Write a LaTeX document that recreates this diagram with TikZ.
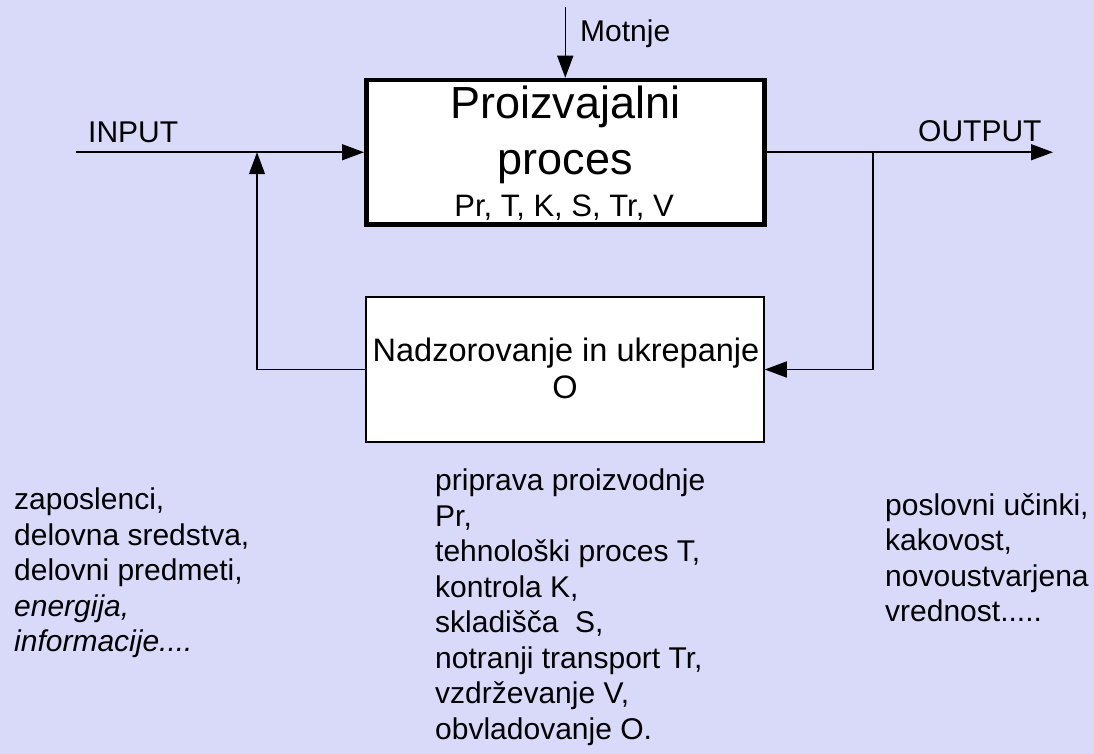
\documentclass[tikz,border=0pt]{standalone}
\usepackage{fontspec}
\setmainfont{Liberation Sans}
\usetikzlibrary{arrows.meta,positioning}
\definecolor{bgblue}{RGB}{217,217,250}
\tikzset{
  flow/.style={line width=1.5pt,-{Triangle[length=22pt,width=16pt]}},
  lbl/.style={font=\fontsize{30}{35.5}\selectfont,inner sep=0pt},
  listtxt/.style={lbl,align=left,anchor=north west},
}

\begin{document}
\begin{tikzpicture}[x=1pt,y=-1pt]
\fill[bgblue] (0,0) rectangle (1094,754);
\useasboundingbox (0,0) rectangle (1094,754);

% the two boxes
\node[draw,line width=4.5pt,fill=white,minimum width=398pt,minimum height=144.5pt,inner sep=0pt] (proc) at (565.25,152.25) {};
\node[draw,line width=1.5pt,fill=white,minimum width=398pt,minimum height=145pt,inner sep=0pt] (ctrl) at (565,369.5) {};

\node[lbl,font=\fontsize{45}{50}\selectfont,anchor=base] (title1) at (565.5,119) {Proizvajalni};
\node[lbl,font=\fontsize{45}{50}\selectfont,anchor=base] (title2) at (565.5,175) {proces};
\node[lbl,font=\fontsize{31}{36}\selectfont,anchor=base] (parts) at (564,216) {Pr, T, K, S, Tr, V};
\node[lbl,font=\fontsize{32.5}{38}\selectfont,anchor=base] (ctrl1) at (566,361) {Nadzorovanje in ukrepanje};
\node[lbl,font=\fontsize{32.5}{38}\selectfont,anchor=base] (ctrl2) at (565,398) {O};

% free ends of the flows
\coordinate (inL) at (76,152.25);
\coordinate (fbL) at (257,152.25);
\coordinate (outR) at (1053,152.25);
\coordinate (fbR) at (873,152.25);
\coordinate (dist) at (565.25,7);

\draw[flow] (inL) -- (proc.west);
\draw[flow] (proc.east) -- (outR);
\draw[flow] (dist) -- (proc.north);
\draw[flow] (fbR) |- (ctrl.east);
\draw[flow] (ctrl.west) -| (fbL);

\node[lbl,anchor=base west] (inlbl) at (88,143) {INPUT};
\node[lbl,anchor=base west] (outlbl) at (918,142) {OUTPUT};
\node[lbl,anchor=base west] (motlbl) at (580,42) {Motnje};

% lists under the diagram
\node[listtxt] (inlist) at (14,488) {zaposlenci,\\delovna sredstva,\\delovni predmeti,\\\textit{energija,}\\\textit{informacije....}};
\node[listtxt] (proclist) at (435,469) {priprava proizvodnje\\Pr,\\tehnološki proces T,\\kontrola K,\\skladišča~~S,\\notranji transport Tr,\\vzdrževanje V,\\obvladovanje O.};
\node[listtxt] (outlist) at (885,493) {poslovni učinki,\\kakovost,\\novoustvarjena\\vrednost.....};
\end{tikzpicture}
\end{document}
